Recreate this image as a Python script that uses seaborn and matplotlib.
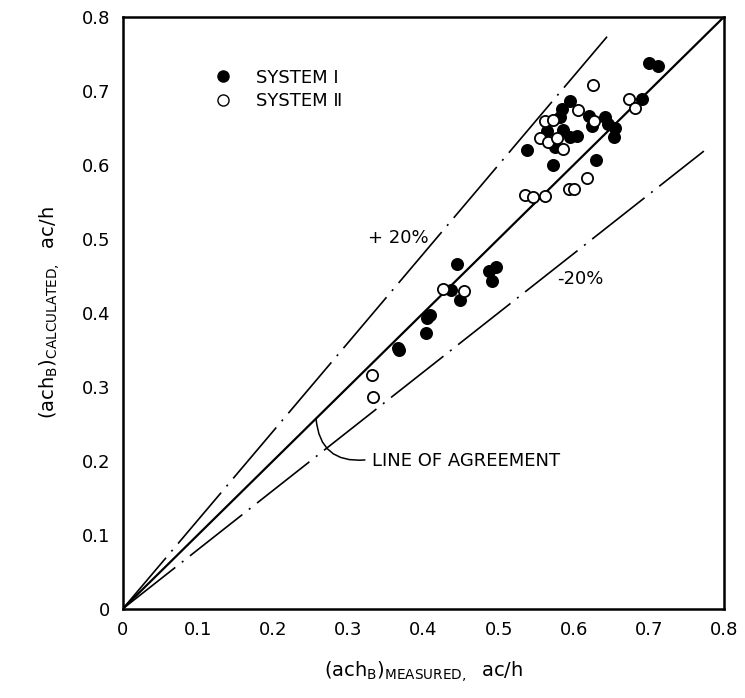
import matplotlib
matplotlib.use("Agg")
import matplotlib.pyplot as plt
import seaborn as sns
import pandas as pd
from matplotlib.lines import Line2D

# System I (filled circles)
sys1_measured = [0.366, 0.367, 0.403, 0.405, 0.409, 0.437, 0.444, 0.449, 0.487, 0.491,
                 0.496, 0.538, 0.572, 0.575, 0.564, 0.586, 0.595, 0.604, 0.582, 0.584,
                 0.595, 0.620, 0.624, 0.642, 0.645, 0.655, 0.653, 0.630, 0.691, 0.700,
                 0.712]
sys1_calculated = [0.352, 0.349, 0.373, 0.393, 0.397, 0.431, 0.466, 0.417, 0.456, 0.443,
                   0.462, 0.620, 0.600, 0.624, 0.645, 0.647, 0.638, 0.639, 0.665, 0.675,
                   0.686, 0.666, 0.653, 0.665, 0.655, 0.650, 0.638, 0.607, 0.689, 0.738,
                   0.733]

# System II (open circles)
sys2_measured = [0.331, 0.333, 0.426, 0.454, 0.535, 0.546, 0.562, 0.593, 0.600, 0.617,
                 0.555, 0.566, 0.577, 0.585, 0.562, 0.572, 0.606, 0.627, 0.626, 0.673,
                 0.681]
sys2_calculated = [0.316, 0.286, 0.432, 0.430, 0.559, 0.557, 0.558, 0.567, 0.567, 0.582,
                   0.636, 0.631, 0.636, 0.621, 0.659, 0.661, 0.674, 0.659, 0.708, 0.689,
                   0.677]

ticks = [0, 0.1, 0.2, 0.3, 0.4, 0.5, 0.6, 0.7, 0.8]
tick_labels = ["0", "0.1", "0.2", "0.3", "0.4", "0.5", "0.6", "0.7", "0.8"]

# +/-20 % band lines: slope and where each one stops
band_slopes = [1.2, 0.8]
band_ends = [0.645, 0.773]

df = pd.concat([
    pd.DataFrame({"measured": sys1_measured, "calculated": sys1_calculated, "system": "I"}),
    pd.DataFrame({"measured": sys2_measured, "calculated": sys2_calculated, "system": "II"}),
], ignore_index=True)

sns.set_theme(style="white")
plt.rcParams["font.family"] = ["DejaVu Sans"]
plt.rcParams["text.color"] = "black"
plt.rcParams["axes.labelcolor"] = "black"

fig, ax = plt.subplots(figsize=(7.45, 6.98), dpi=100)
fig.subplots_adjust(left=0.165, right=0.972, top=0.976, bottom=0.128)

# line of agreement and +/-20 % lines
ax.plot([0, 0.8], [0, 0.8], color="black", lw=1.6, zorder=1)
for slope, end in zip(band_slopes, band_ends):
    ax.plot([0, end], [0, slope * end], color="black", lw=1.2,
            dashes=(40, 5, 1.2, 5), zorder=1)

sns.scatterplot(data=df[df["system"] == "I"], x="measured", y="calculated",
                color="black", edgecolor="black", linewidth=1.3, s=65,
                legend=False, ax=ax, zorder=3)
sns.scatterplot(data=df[df["system"] == "II"], x="measured", y="calculated",
                color="white", edgecolor="black", linewidth=1.3, s=65,
                legend=False, ax=ax, zorder=3)

ax.set_xlim(0, 0.8)
ax.set_ylim(0, 0.8)
ax.set_xticks(ticks)
ax.set_xticklabels(tick_labels)
ax.set_yticks(ticks)
ax.set_yticklabels(tick_labels)
ax.tick_params(direction="in", length=10, width=1.2, labelsize=13, pad=9,
               colors="black")
for sp in ax.spines.values():
    sp.set_color("black")
    sp.set_linewidth(1.8)

ax.set_xlabel(r"(ach$_\mathregular{B}$)$_\mathregular{MEASURED,}$  ac/h",
              fontsize=14, labelpad=14)
ax.set_ylabel(r"(ach$_\mathregular{B}$)$_\mathregular{CALCULATED,}$  ac/h",
              fontsize=14, labelpad=14)

ax.text(0.326, 0.501, "+ 20%", fontsize=13, ha="left", va="center")
ax.text(0.578, 0.445, "-20%", fontsize=13, ha="left", va="center")
ax.text(0.331, 0.199, "LINE OF AGREEMENT", fontsize=13, ha="left", va="center")
ax.annotate("", xy=(0.257, 0.257), xytext=(0.322, 0.201),
            arrowprops=dict(arrowstyle="-", color="black", lw=1.1,
                            connectionstyle="arc3,rad=-0.5",
                            shrinkA=0, shrinkB=0))

handles = [
    Line2D([], [], marker="o", linestyle="none", markersize=8,
           markerfacecolor="black", markeredgecolor="black"),
    Line2D([], [], marker="o", linestyle="none", markersize=8,
           markerfacecolor="white", markeredgecolor="black"),
]
ax.legend(handles, ["SYSTEM \u2160", "SYSTEM \u2161"], loc="upper left",
          bbox_to_anchor=(0.125, 0.94), frameon=False, fontsize=13,
          handlelength=1.0, handletextpad=1.3, labelspacing=0.3,
          labelcolor="black")

fig.savefig("out.png", dpi=100)
